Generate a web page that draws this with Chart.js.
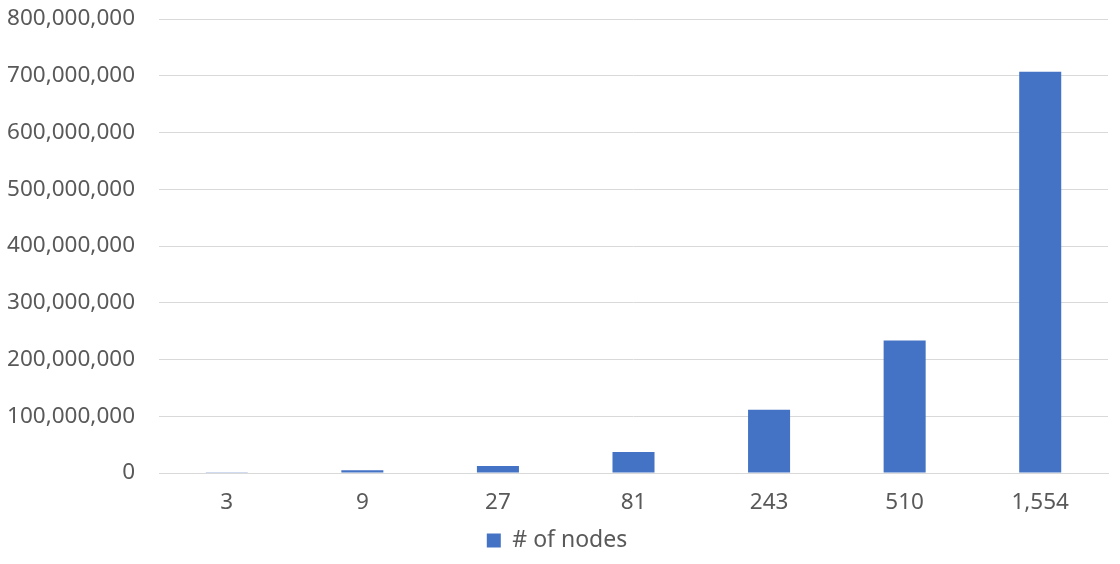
<!DOCTYPE html>
<html>
<head>
<meta charset="utf-8">
<script src="https://cdn.jsdelivr.net/npm/chart.js@4.4.0/dist/chart.umd.min.js"></script>
<style>
  html, body { margin: 0; padding: 0; background: #fff; }
  #wrap { width: 1120px; height: 564px; }
</style>
</head>
<body>
<div id="wrap"><canvas id="chart"></canvas></div>
<script>
// Datos
const categories = ['3', '9', '27', '81', '243', '510', '1,554'];
const nodeValues = [1200000, 4800000, 12400000, 37000000, 111500000, 233500000, 707000000];
const seriesLabel = '# of nodes';

const textColor = '#595959';
const fontFamily = '"Noto Sans", "Open Sans", sans-serif';

new Chart(document.getElementById('chart'), {
    type: 'bar',
    data: {
        labels: categories,
        datasets: [{
            label: seriesLabel,
            data: nodeValues,
            backgroundColor: '#4472C4',
            borderWidth: 0,
            categoryPercentage: 1,
            barPercentage: 0.31
        }]
    },
    options: {
        responsive: true,
        maintainAspectRatio: false,
        animation: false,
        layout: { padding: { left: 6, right: 12, top: 19, bottom: 2 } },
        scales: {
            x: {
                grid: { display: false },
                border: { color: '#d9d9d9' },
                ticks: { color: textColor, font: { family: fontFamily, size: 22.5 }, padding: 8 }
            },
            y: {
                min: 0,
                max: 800000000,
                border: { display: false },
                grid: { color: '#d9d9d9', drawTicks: false },
                // Ancho fijo del eje para alinear la rejilla como en el original
                afterFit: (scale) => {
                    scale.paddingTop = 0;
                    scale.width = 153;
                },
                ticks: {
                    stepSize: 100000000,
                    color: textColor,
                    font: { family: fontFamily, size: 22.5 },
                    padding: 24,
                    callback: v => v.toLocaleString('en-US')
                }
            }
        },
        plugins: {
            legend: {
                position: 'bottom',
                labels: {
                    color: textColor,
                    font: { family: fontFamily, size: 23 },
                    boxWidth: 14,
                    boxHeight: 14,
                    padding: 5
                }
            },
            tooltip: { enabled: false }
        }
    }
});
</script>
</body>
</html>
